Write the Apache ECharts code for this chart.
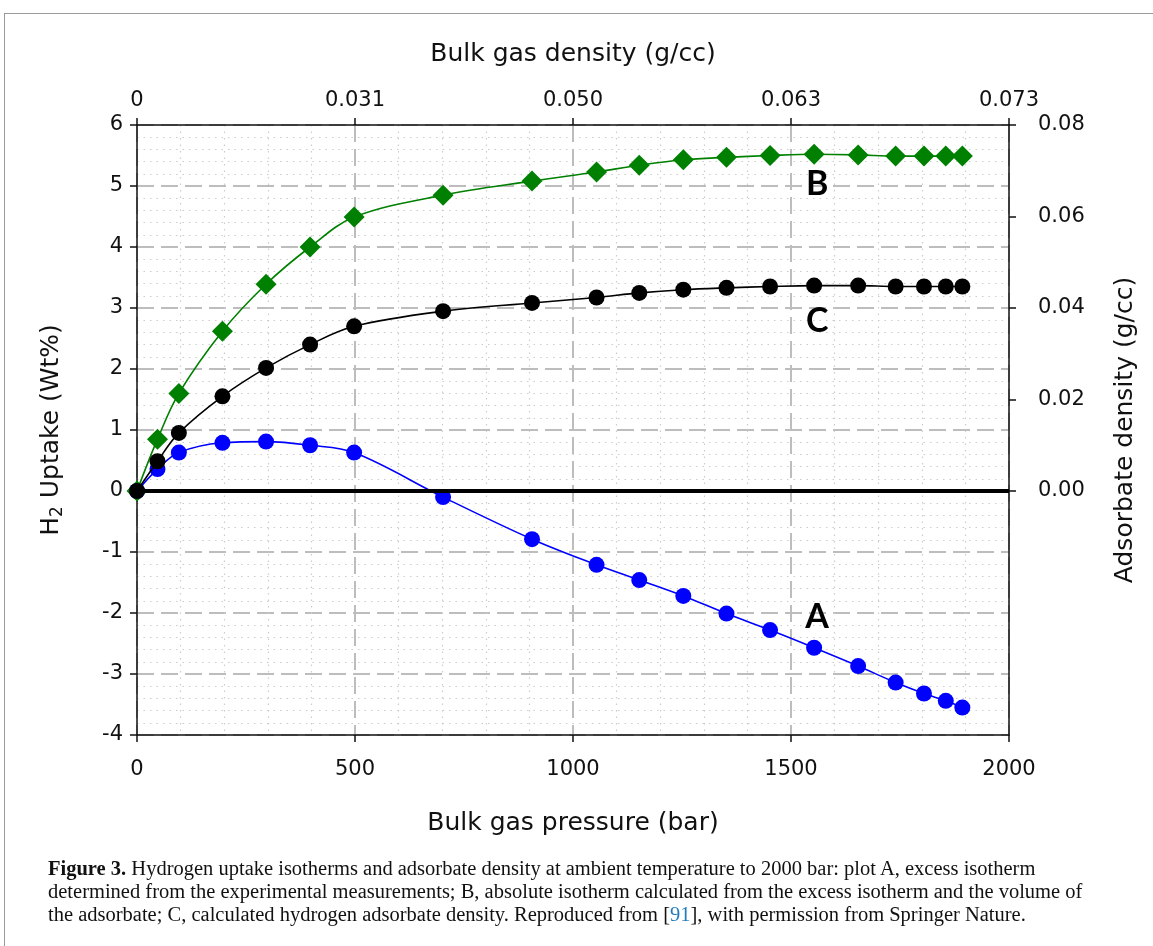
<!DOCTYPE html>
<html>
<head>
<meta charset="utf-8">
<script src="https://cdn.jsdelivr.net/npm/echarts@6/dist/echarts.min.js"></script>
<style>
  html, body { margin: 0; padding: 0; background: #fff; }
  #wrap { position: relative; width: 1153px; height: 946px; overflow: hidden; }
  #frame { position: absolute; left: 4px; top: 13px; right: -10px; bottom: -10px;
           border-top: 1.5px solid #9a9a9a; border-left: 1.5px solid #9a9a9a; }
  #chart { position: absolute; left: 0; top: 0; width: 1153px; height: 946px; }
  #caption { position: absolute; left: 48px; top: 857px; width: 1100px;
             font-family: "Liberation Serif", "DejaVu Serif", serif; font-size: 20.5px;
             line-height: 23px; color: #111; white-space: nowrap; }
  #caption b { font-weight: bold; }
  #caption .ref { color: #1f7cc0; }
</style>
</head>
<body>
<div id="wrap">
  <div id="frame"></div>
  <div id="chart"></div>
  <div id="caption"><b>Figure 3.</b> Hydrogen uptake isotherms and adsorbate density at ambient temperature to 2000 bar: plot A, excess isotherm<br>determined from the experimental measurements; B, absolute isotherm calculated from the excess isotherm and the volume of<br>the adsorbate; C, calculated hydrogen adsorbate density. Reproduced from [<span class="ref">91</span>], with permission from Springer Nature.</div>
</div>
<script>
// Bulk gas pressure (bar) of each measurement
const pressureA = [0, 47, 96, 196, 296, 397, 498, 702, 906, 1054, 1152, 1253, 1352, 1452, 1553, 1654, 1740, 1805, 1855, 1893];
const pressureB = pressureA;
const pressureC = pressureA;

// A: excess isotherm, H2 uptake (Wt%)
const excessUptake = [0, 0.36, 0.63, 0.79, 0.81, 0.75, 0.63, -0.10, -0.79, -1.21, -1.46, -1.72, -2.01, -2.28, -2.57, -2.87, -3.14, -3.32, -3.44, -3.55];
// B: absolute isotherm, H2 uptake (Wt%)
const absoluteUptake = [0, 0.85, 1.60, 2.62, 3.39, 4.00, 4.49, 4.85, 5.08, 5.23, 5.34, 5.43, 5.47, 5.50, 5.52, 5.51, 5.49, 5.49, 5.49, 5.49];
// C: adsorbate density (g/cc)
const adsorbateDensity = [0, 0.0065, 0.0127, 0.0207, 0.0269, 0.0320, 0.0360, 0.0393, 0.0411, 0.0423, 0.0433, 0.0440, 0.0444, 0.0447, 0.0449, 0.0449, 0.0447, 0.0447, 0.0447, 0.0447];

// Top axis: bulk gas density at each 500 bar pressure tick
const densityTickLabels = ['0', '0.031', '0.050', '0.063', '0.073'];
// Right axis tick values (g/cc)
const rightTicks = [0, 0.02, 0.04, 0.06, 0.08];

const zip = (xs, ys) => xs.map((x, i) => [x, ys[i]]);

const sansFont = 'DejaVu Sans';
const tickFont = { fontFamily: sansFont, fontSize: 21, color: '#111' };
const nameFont = { fontFamily: sansFont, fontSize: 25, color: '#111' };
const axisLine = { show: true, onZero: false, lineStyle: { color: '#111', width: 1.5 } };
const tickStyle = { show: true, inside: false, length: 7, lineStyle: { color: '#111', width: 1.5 } };
const majorGrid = { show: true, lineStyle: { color: '#bdbdbd', width: 2, type: [17, 7] } };
const minorGrid = { show: true, lineStyle: { color: '#cccccc', width: 1.2, type: [1.5, 5] } };

function tagLabel(text) {
  return {
    show: true, position: 'inside', formatter: text,
    fontFamily: 'Lato', fontWeight: 'bold', fontSize: 34, color: '#000'
  };
}

const chart = echarts.init(document.getElementById('chart'), null, { renderer: 'canvas' });
chart.setOption({
  backgroundColor: 'transparent',
  animation: false,
  grid: { left: 137, right: 144, top: 125, bottom: 211, containLabel: false },
  xAxis: [
    {
      type: 'value', position: 'bottom', min: 0, max: 2000, interval: 500,
      name: 'Bulk gas pressure (bar)', nameLocation: 'middle', nameGap: 76, nameTextStyle: nameFont,
      axisLine: axisLine,
      axisTick: tickStyle,
      axisLabel: Object.assign({ margin: 24, formatter: v => String(v) }, tickFont),
      splitLine: majorGrid,
      minorTick: { show: false, splitNumber: 5 },
      minorSplitLine: minorGrid
    },
    {
      type: 'value', position: 'top', min: 0, max: 2000, interval: 500,
      name: 'Bulk gas density (g/cc)', nameLocation: 'middle', nameGap: 58, nameTextStyle: nameFont,
      axisLine: axisLine,
      axisTick: tickStyle,
      axisLabel: Object.assign({ margin: 14, formatter: v => densityTickLabels[Math.round(v / 500)] }, tickFont),
      splitLine: { show: false }
    }
  ],
  yAxis: [
    {
      type: 'value', position: 'left', min: -4, max: 6, interval: 1,
      name: '{n|H}{s|2}{n| Uptake (Wt%)}', nameLocation: 'middle', nameGap: 71, nameRotate: 90,
      nameTextStyle: {
        rich: {
          n: { fontFamily: sansFont, fontSize: 25, color: '#111' },
          s: { fontFamily: sansFont, fontSize: 17, color: '#111', verticalAlign: 'bottom', padding: [12, 0, 0, 0] }
        }
      },
      axisLine: axisLine,
      axisTick: tickStyle,
      axisLabel: Object.assign({ margin: 14 }, tickFont),
      splitLine: majorGrid,
      minorTick: { show: false, splitNumber: 5 },
      minorSplitLine: minorGrid
    },
    {
      type: 'value', position: 'right', min: -0.16 / 3, max: 0.08,
      name: 'Adsorbate density (g/cc)', nameLocation: 'middle', nameGap: 104, nameRotate: 90,
      nameTextStyle: nameFont,
      axisLine: axisLine,
      axisTick: Object.assign({ customValues: rightTicks }, tickStyle),
      axisLabel: Object.assign({ margin: 29, customValues: rightTicks, formatter: v => v.toFixed(2) }, tickFont),
      splitLine: { show: false }
    }
  ],
  series: [
    {
      name: 'A', type: 'line', xAxisIndex: 0, yAxisIndex: 0,
      data: zip(pressureA, excessUptake), smooth: 0.35,
      symbol: 'circle', symbolSize: 16,
      lineStyle: { color: '#0000ff', width: 1.6 }, itemStyle: { color: '#0000ff' },
      markLine: {
        silent: true, symbol: ['none', 'none'], label: { show: false },
        lineStyle: { color: '#000', width: 4, type: 'solid' },
        data: [{ yAxis: 0 }]
      },
      markPoint: {
        symbol: 'rect', symbolSize: 1, itemStyle: { color: 'transparent' },
        label: tagLabel('A'), data: [{ coord: [1560, -2.07] }]
      },
      z: 3
    },
    {
      name: 'B', type: 'line', xAxisIndex: 0, yAxisIndex: 0,
      data: zip(pressureB, absoluteUptake), smooth: 0.35,
      symbol: 'diamond', symbolSize: 21,
      lineStyle: { color: '#008000', width: 1.6 }, itemStyle: { color: '#008000' },
      markPoint: {
        symbol: 'rect', symbolSize: 1, itemStyle: { color: 'transparent' },
        label: tagLabel('B'), data: [{ coord: [1560, 5.03] }]
      },
      z: 4
    },
    {
      name: 'C', type: 'line', xAxisIndex: 0, yAxisIndex: 1,
      data: zip(pressureC, adsorbateDensity), smooth: 0.35,
      symbol: 'circle', symbolSize: 16,
      lineStyle: { color: '#000000', width: 1.6 }, itemStyle: { color: '#000000' },
      markPoint: {
        symbol: 'rect', symbolSize: 1, itemStyle: { color: 'transparent' },
        label: tagLabel('C'), data: [{ coord: [1560, 0.0372] }]
      },
      z: 5
    }
  ]
});
</script>
</body>
</html>
